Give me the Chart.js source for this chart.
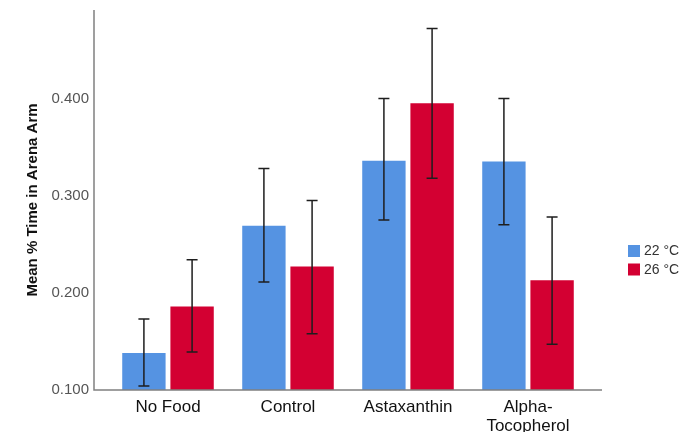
<!DOCTYPE html>
<html>
<head>
<meta charset="utf-8">
<script src="https://cdn.jsdelivr.net/npm/chart.js@4/dist/chart.umd.min.js"></script>
<style>
  html, body { margin: 0; padding: 0; background: #ffffff; }
  #wrap { width: 680px; height: 432px; position: relative; }
</style>
</head>
<body>
<div id="wrap"><canvas id="chart" width="680" height="432"></canvas></div>
<script>
// Food treatment groups on the x axis
const categories = ['No Food', 'Control', 'Astaxanthin', ['Alpha-', 'Tocopherol']];
const seriesLabels = ['22 °C', '26 °C'];

// Mean proportion of time spent in the arena arm
const mean22 = [0.138, 0.269, 0.336, 0.335];
const mean26 = [0.186, 0.227, 0.395, 0.213];

// Error bar limits (lower / upper)
const low22  = [0.104, 0.211, 0.275, 0.270];
const high22 = [0.173, 0.328, 0.400, 0.400];
const low26  = [0.139, 0.158, 0.318, 0.147];
const high26 = [0.234, 0.295, 0.472, 0.278];

// Y axis ticks and range
const tickValues = [0.1, 0.2, 0.3, 0.4];
const yMin = 0.1;
const yMax = 0.491;

const colors = ['#5593E2', '#D30032'];

// Draws the error bars over each bar
const errorBars = {
  id: 'errorBars',
  afterDatasetsDraw(chart) {
    const ctx = chart.ctx;
    const y = chart.scales.y;
    const limits = [[low22, high22], [low26, high26]];
    ctx.save();
    ctx.strokeStyle = '#1e1e1e';
    ctx.lineWidth = 1.5;
    chart.data.datasets.forEach((ds, di) => {
      const meta = chart.getDatasetMeta(di);
      meta.data.forEach((bar, i) => {
        const x = bar.x;
        const yl = y.getPixelForValue(limits[di][0][i]);
        const yh = y.getPixelForValue(limits[di][1][i]);
        const cap = 5.5;
        ctx.beginPath();
        ctx.moveTo(x, yl); ctx.lineTo(x, yh);
        ctx.moveTo(x - cap, yl); ctx.lineTo(x + cap, yl);
        ctx.moveTo(x - cap, yh); ctx.lineTo(x + cap, yh);
        ctx.stroke();
      });
    });
    ctx.restore();
  }
};

// Axis lines that extend slightly beyond the category band, plus the legend
const frame = {
  id: 'frame',
  afterDraw(chart) {
    const ctx = chart.ctx;
    const a = chart.chartArea;
    const ext = 14;
    ctx.save();
    ctx.strokeStyle = '#808080';
    ctx.lineWidth = 1.5;
    ctx.beginPath();
    ctx.moveTo(a.left - ext, a.top);
    ctx.lineTo(a.left - ext, a.bottom);
    ctx.lineTo(a.right + ext, a.bottom);
    ctx.stroke();

    // legend
    const lx = a.right + 40;
    let ly = 245;
    ctx.font = '14px "Liberation Sans", Arial, sans-serif';
    ctx.textBaseline = 'middle';
    ctx.textAlign = 'left';
    seriesLabels.forEach((lab, i) => {
      ctx.fillStyle = colors[i];
      ctx.fillRect(lx, ly, 12, 12);
      ctx.fillStyle = '#333333';
      ctx.fillText(lab, lx + 16, ly + 6.5);
      ly += 18.5;
    });
    ctx.restore();
  }
};

new Chart(document.getElementById('chart'), {
  type: 'bar',
  data: {
    labels: categories,
    datasets: [
      { label: seriesLabels[0], data: mean22, backgroundColor: colors[0], borderWidth: 0 },
      { label: seriesLabels[1], data: mean26, backgroundColor: colors[1], borderWidth: 0 }
    ]
  },
  options: {
    responsive: false,
    animation: false,
    devicePixelRatio: 1,
    layout: { padding: { left: 0, right: 92, top: 10, bottom: 0 } },
    categoryPercentage: 0.803,
    barPercentage: 0.9,
    plugins: {
      legend: { display: false },
      tooltip: { enabled: false }
    },
    scales: {
      x: {
        grid: { display: false, drawTicks: false },
        border: { display: false },
        ticks: {
          color: '#111111',
          padding: 8,
          maxRotation: 0,
          autoSkip: false,
          font: { family: '"Liberation Sans", Arial, sans-serif', size: 17, lineHeight: 1.1 }
        },
        afterFit(scale) {
          scale.height = 42;
          scale.paddingLeft = 0;
          scale.paddingRight = 0;
        }
      },
      y: {
        min: yMin,
        max: yMax,
        grid: { display: false, drawTicks: false },
        border: { display: false },
        afterBuildTicks(scale) { scale.ticks = tickValues.map(v => ({ value: v })); },
        ticks: {
          color: '#555555',
          padding: 19,
          font: { family: '"Liberation Sans", Arial, sans-serif', size: 15 },
          callback: v => v.toFixed(3)
        },
        title: {
          display: true,
          text: 'Mean % Time in Arena Arm',
          color: '#111111',
          padding: { top: 24, bottom: 0 },
          font: { family: '"Liberation Sans", Arial, sans-serif', size: 15, weight: 'bold' }
        },
        afterFit(scale) {
          scale.width = 108;
          scale.paddingTop = 0;
          scale.paddingBottom = 0;
        }
      }
    }
  },
  plugins: [errorBars, frame]
});
</script>
</body>
</html>
